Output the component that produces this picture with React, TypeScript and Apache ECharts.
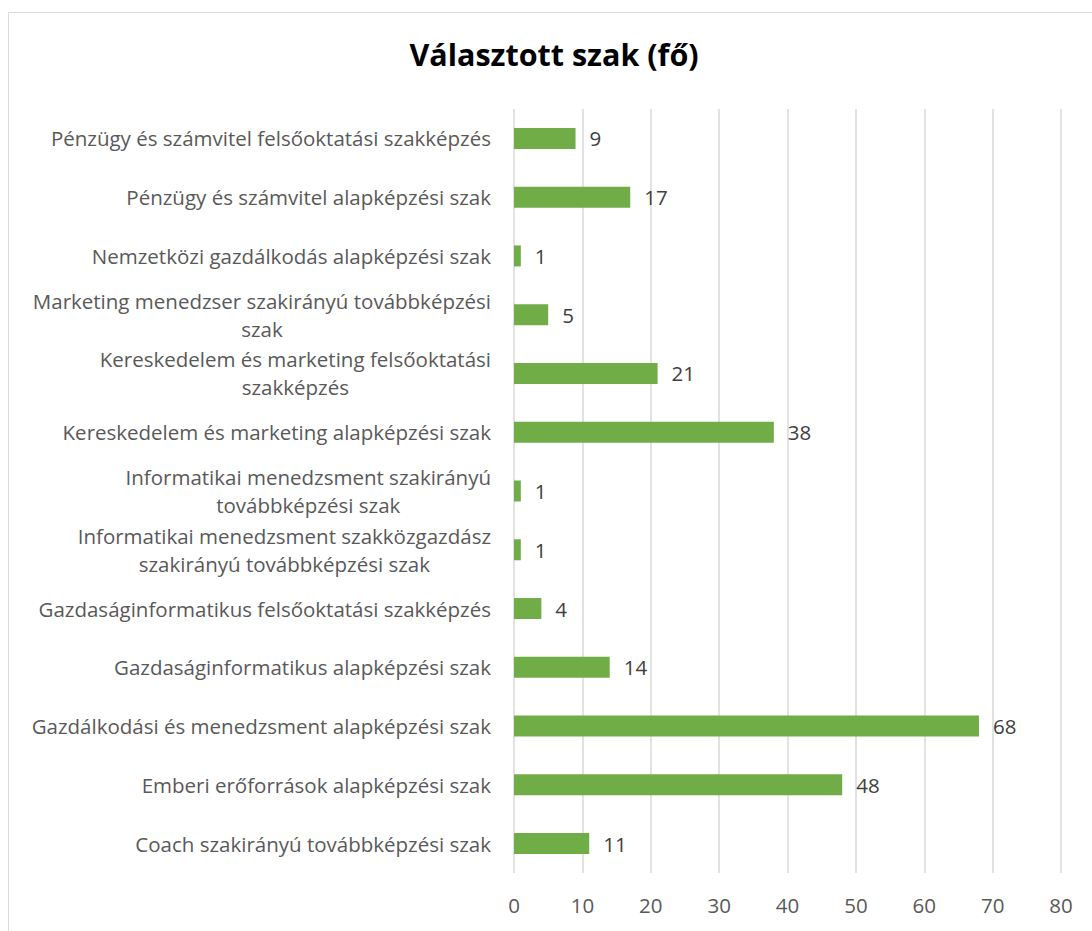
import React, { useEffect, useRef } from "react";
import * as echarts from "echarts";

const categories: string[] = [
  "Pénzügy és számvitel felsőoktatási szakképzés",
  "Pénzügy és számvitel alapképzési szak",
  "Nemzetközi gazdálkodás alapképzési szak",
  "Marketing menedzser szakirányú továbbképzési\nszak",
  "Kereskedelem és marketing felsőoktatási\nszakképzés",
  "Kereskedelem és marketing alapképzési szak",
  "Informatikai menedzsment szakirányú\ntovábbképzési szak",
  "Informatikai menedzsment szakközgazdász\nszakirányú továbbképzési szak",
  "Gazdaságinformatikus felsőoktatási szakképzés",
  "Gazdaságinformatikus alapképzési szak",
  "Gazdálkodási és menedzsment alapképzési szak",
  "Emberi erőforrások alapképzési szak",
  "Coach szakirányú továbbképzési szak",
];

const values: number[] = [9, 17, 1, 5, 21, 38, 1, 1, 4, 14, 68, 48, 11];

const titleText = "Választott szak (fő)";
const FONT = "Open Sans";

export default function App() {
  const ref = useRef<HTMLDivElement>(null);
  useEffect(() => {
    if (!ref.current) return;
    const chart = echarts.init(ref.current, undefined, { renderer: "svg" });
    chart.setOption({
      animation: false,
      backgroundColor: "#ffffff",
      textStyle: { fontFamily: FONT },
      title: {
        text: titleText,
        left: 549,
        textAlign: "center",
        top: 33,
        textStyle: { fontFamily: FONT, fontSize: 30.5, fontWeight: "bold", color: "#000000" },
      },
      graphic: [
        {
          type: "rect",
          left: 6,
          top: 10,
          shape: { width: 1200, height: 1000 },
          style: { fill: "none", stroke: "#d9d9d9", lineWidth: 1 },
          silent: true,
        },
      ],
      grid: { left: 514, right: 31, top: 109, bottom: 58, containLabel: false },
      xAxis: {
        type: "value",
        min: 0,
        max: 80,
        interval: 10,
        axisLine: { show: false },
        axisTick: { show: false },
        splitLine: { show: true, lineStyle: { color: "#d9d9d9", width: 1.5 } },
        axisLabel: { color: "#595959", fontSize: 20.5, fontFamily: FONT, margin: 21 },
      },
      yAxis: {
        type: "category",
        inverse: true,
        data: categories,
        axisLine: { show: false },
        axisTick: { show: false },
        axisLabel: {
          color: "#595959",
          fontSize: 20.5,
          fontFamily: FONT,
          margin: 23,
          lineHeight: 28,
          align: "right",
          formatter: (v: string) =>
            v
              .split("\n")
              .map((l) => `{c|${l}}`)
              .join("\n"),
          rich: {
            c: {
              align: "center",
              color: "#595959",
              fontSize: 20.5,
              fontFamily: FONT,
              lineHeight: 28,
            },
          },
        },
      },
      series: [
        {
          type: "bar",
          data: values,
          barWidth: 21,
          itemStyle: { color: "#70ad47" },
          label: {
            show: true,
            position: "right",
            distance: 14,
            color: "#404040",
            fontSize: 20.5,
            fontFamily: FONT,
          },
        },
      ],
    });
    return () => chart.dispose();
  }, []);
  return (
    <div
      ref={ref}
      style={{ position: "absolute", left: 0, top: 0, width: 1092, height: 931 }}
    />
  );
}
